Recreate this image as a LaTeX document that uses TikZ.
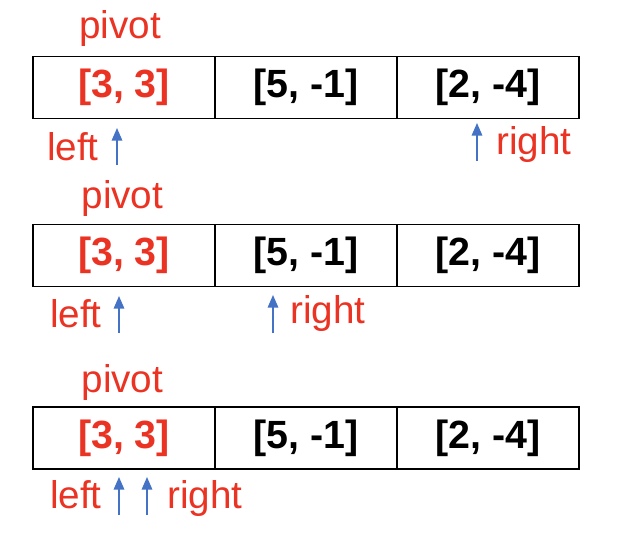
\documentclass[tikz,border=0pt]{standalone}
\usepackage{fontspec}
\setmainfont{Liberation Sans}
\usetikzlibrary{positioning}
\usetikzlibrary{arrows.meta}
\definecolor{ptred}{RGB}{234,51,35}
\definecolor{ptblue}{RGB}{68,114,196}

\begin{document}
\begin{tikzpicture}[
	cell/.style={draw, line width=1.2pt, minimum width=4.55cm, minimum height=1.55cm, inner sep=0pt, outer sep=0pt, font=\fontsize{28}{30}\selectfont\bfseries},
	lbl/.style={text=ptred, inner sep=0pt, font=\fontsize{27.5}{30}\selectfont},
	ptr/.style={ptblue, line width=1.1pt, -{Triangle[width=7.5pt, length=9pt]}}
	]

		\useasboundingbox (0,0) rectangle (15.7,-13.3);

		\node[cell, text=ptred] (c11) at (3.1,-2.19) {[3, 3]};
		\node[cell, right=0pt of c11] (c12) {[5, -1]};
		\node[cell, right=0pt of c12] (c13) {[2, -4]};
		\node[lbl, anchor=base] (p1) at (3.0,-0.95) {pivot};

		\coordinate (lt1) at (2.925,-4.125);
		\coordinate (lh1) at (2.925,-3.2);
		\coordinate (rt1) at (11.925,-4.025);
		\coordinate (rh1) at (11.925,-3.075);
		\draw[ptr] (lt1) -- (lh1);
		\draw[ptr] (rt1) -- (rh1);
		\node[lbl, anchor=base east] (l1) at (2.475,-4.0) {left};
		\node[lbl, anchor=base west] (r1) at (12.4,-3.85) {right};

		\node[cell, text=ptred] (c21) at (3.1,-6.39) {[3, 3]};
		\node[cell, right=0pt of c21] (c22) {[5, -1]};
		\node[cell, right=0pt of c22] (c23) {[2, -4]};
		\node[lbl, anchor=base] (p2) at (3.06,-5.2) {pivot};

		\coordinate (lt2) at (2.975,-8.325);
		\coordinate (lh2) at (2.975,-7.4);
		\coordinate (rt2) at (6.825,-8.325);
		\coordinate (rh2) at (6.825,-7.375);
		\draw[ptr] (lt2) -- (lh2);
		\draw[ptr] (rt2) -- (rh2);
		\node[lbl, anchor=base east] (l2) at (2.55,-8.175) {left};
		\node[lbl, anchor=base west] (r2) at (7.25,-8.075) {right};

		\node[cell, text=ptred] (c31) at (3.1,-10.95) {[3, 3]};
		\node[cell, right=0pt of c31] (c32) {[5, -1]};
		\node[cell, right=0pt of c32] (c33) {[2, -4]};
		\node[lbl, anchor=base] (p3) at (3.06,-9.8) {pivot};

		\coordinate (lt3) at (2.975,-12.875);
		\coordinate (lh3) at (2.975,-11.925);
		\coordinate (rt3) at (3.675,-12.875);
		\coordinate (rh3) at (3.675,-11.925);
		\draw[ptr] (lt3) -- (lh3);
		\draw[ptr] (rt3) -- (rh3);
		\node[lbl, anchor=base east] (l3) at (2.55,-12.7) {left};
		\node[lbl, anchor=base west] (r3) at (4.175,-12.7) {right};

	\end{tikzpicture}
\end{document}
